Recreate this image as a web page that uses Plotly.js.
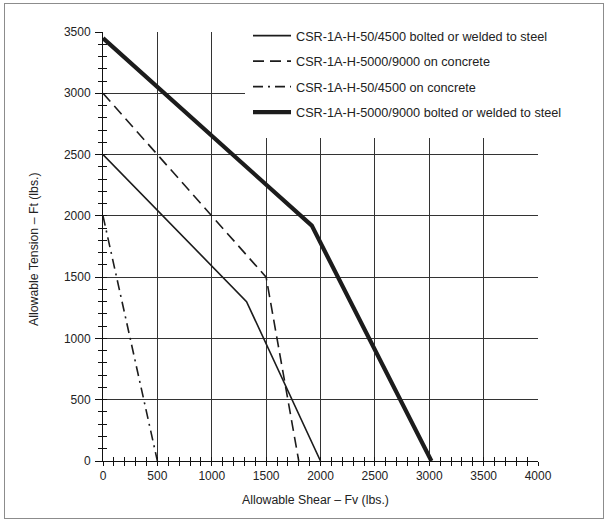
<!DOCTYPE html>
<html><head><meta charset="utf-8">
<script src="https://cdn.plot.ly/plotly-3.0.1.min.js"></script>
<style>
html,body{margin:0;padding:0;background:#fff;}
#wrap{position:relative;width:608px;height:523px;}
#chart{width:608px;height:523px;}
#frame{position:absolute;left:4px;top:3px;width:598px;height:514px;border:1.5px solid #8c8c8c;pointer-events:none;}
</style></head><body>
<div id="wrap"><div id="chart"></div><div id="frame"></div></div>
<script>
// Series names (legend order)
const seriesNames = [
  'CSR-1A-H-50/4500 bolted or welded to steel',
  'CSR-1A-H-5000/9000 on concrete',
  'CSR-1A-H-50/4500 on concrete',
  'CSR-1A-H-5000/9000 bolted or welded to steel'
];
// Allowable shear Fv (lbs.) and allowable tension Ft (lbs.)
const shear50Steel = [0, 1320, 2000];
const tension50Steel = [2500, 1300, 0];
const shear5000Concrete = [0, 1500, 1800];
const tension5000Concrete = [3000, 1500, 0];
const shear50Concrete = [0, 500];
const tension50Concrete = [2000, 0];
const shear5000Steel = [0, 1920, 3020];
const tension5000Steel = [3450, 1920, 0];

const xTicks = [0, 500, 1000, 1500, 2000, 2500, 3000, 3500, 4000];
const yTicks = [0, 500, 1000, 1500, 2000, 2500, 3000, 3500];
const xTitle = 'Allowable Shear – Fv (lbs.)';
const yTitle = 'Allowable Tension – Ft (lbs.)';

const ink = '#1c1c1c';
const FONT = 'Liberation Sans, Arial, sans-serif';

const traces = [
  {x: shear50Steel, y: tension50Steel, name: seriesNames[0], legendgroup: 'a',
   mode: 'lines', line: {color: ink, width: 1.6}},
  {x: shear5000Concrete, y: tension5000Concrete, name: seriesNames[1], legendgroup: 'b',
   mode: 'lines', line: {color: ink, width: 1.6, dash: '11px,6px'}},
  {x: shear50Concrete, y: tension50Concrete, name: seriesNames[2], legendgroup: 'c',
   mode: 'lines', line: {color: ink, width: 1.6, dash: '10px,5px,2px,5px'}},
  {x: shear5000Steel, y: tension5000Steel, name: seriesNames[3], legendgroup: 'd',
   mode: 'lines', line: {color: ink, width: 4.2}},
  {x: [], y: [], xaxis: 'x2', yaxis: 'y2', showlegend: false, hoverinfo: 'skip', mode: 'lines'}
];

const baseAxis = {
  showgrid: true, gridcolor: '#333', gridwidth: 1,
  showline: true, linecolor: '#111', linewidth: 1,
  zeroline: false, tickcolor: '#111', tickwidth: 1,
  tickfont: {family: FONT, size: 12, color: '#222'},
  automargin: false, fixedrange: true
};

const layout = {
  width: 608, height: 523,
  margin: {l: 103, r: 70, t: 32, b: 62},
  paper_bgcolor: '#fff', plot_bgcolor: '#fff',
  font: {family: FONT, size: 12, color: '#222'},
  showlegend: true,
  legend: {
    x: (248 - 103) / 435, xanchor: 'left', y: 1.026, yanchor: 'top',
    bgcolor: '#ffffff', borderwidth: 0, itemwidth: 38,
    tracegroupgap: 6, font: {family: FONT, size: 12.7, color: '#222'}
  },
  shapes: [
    {type: 'rect', xref: 'paper', yref: 'paper', layer: 'above',
     x0: (245 - 103) / 435, x1: 1.2, y0: (461 - 138) / 429, y1: 1.06,
     fillcolor: '#ffffff', line: {width: 0}}
  ],
  annotations: [
    {text: xTitle, xref: 'paper', yref: 'paper', x: (315 - 103) / 435, y: (461 - 500) / 429,
     xanchor: 'center', yanchor: 'middle', showarrow: false,
     font: {family: FONT, size: 12.3, color: '#222'}},
    {text: yTitle, xref: 'paper', yref: 'paper', x: (34 - 103) / 435, y: (461 - 249) / 429,
     xanchor: 'center', yanchor: 'middle', showarrow: false, textangle: -90,
     font: {family: FONT, size: 12.3, color: '#222'}}
  ],
  xaxis: Object.assign({}, baseAxis, {
    range: [0, 4000], tickmode: 'array', tickvals: xTicks, ticktext: xTicks.map(String),
    ticks: 'outside', ticklen: 4,
    minor: {dtick: 100, tick0: 0, ticks: 'outside', ticklen: 4, tickcolor: '#111', showgrid: false}
  }),
  yaxis: Object.assign({}, baseAxis, {
    range: [0, 3500], tickmode: 'array', tickvals: yTicks, ticktext: yTicks.map(String),
    ticks: 'outside', ticklen: 7, ticklabelstandoff: 2,
    minor: {dtick: 100, tick0: 0, ticks: 'outside', ticklen: 4, tickcolor: '#111', showgrid: false}
  }),
  xaxis2: {
    overlaying: 'x', anchor: 'y2', range: [0, 4000], showgrid: false, showline: false,
    zeroline: false, showticklabels: false, ticks: 'inside', ticklen: 4, dtick: 500, tick0: 0,
    tickcolor: '#111', minor: {dtick: 100, tick0: 0, ticks: 'inside', ticklen: 4, tickcolor: '#111', showgrid: false},
    fixedrange: true
  },
  yaxis2: {
    overlaying: 'y', anchor: 'x2', range: [0, 3500], showgrid: false, showline: false,
    zeroline: false, showticklabels: false, ticks: 'inside', ticklen: 4, dtick: 500, tick0: 0,
    tickcolor: '#111', minor: {dtick: 100, tick0: 0, ticks: 'inside', ticklen: 4, tickcolor: '#111', showgrid: false},
    fixedrange: true
  }
};

Plotly.newPlot('chart', traces, layout, {displayModeBar: false, staticPlot: true});
</script>
</body></html>
